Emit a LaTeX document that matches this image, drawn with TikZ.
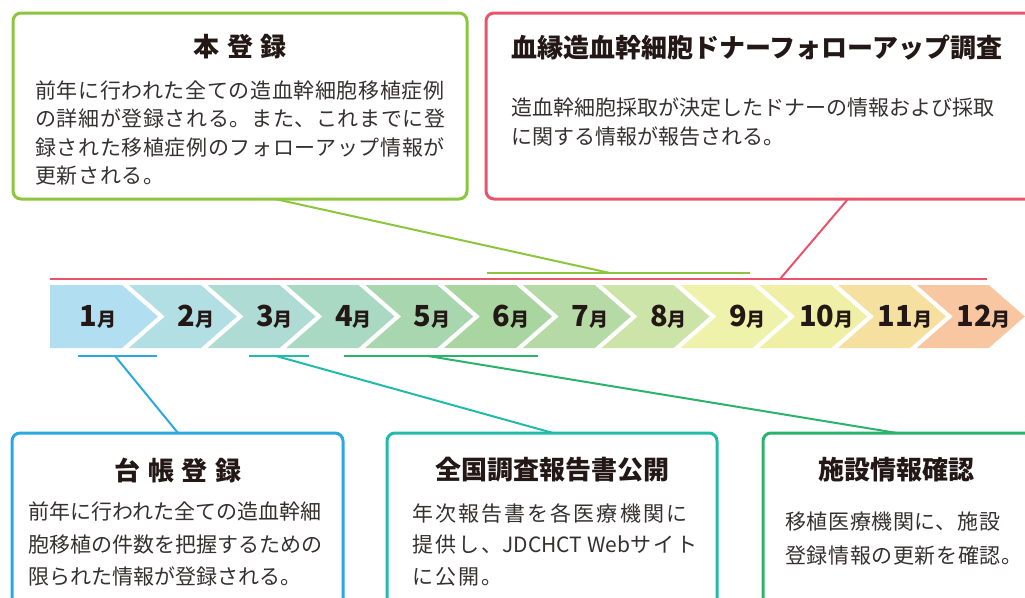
\documentclass[tikz,border=0pt]{standalone}
\usepackage{fontspec}
\newfontfamily\jp{Noto Sans CJK JP}
\definecolor{cYG}{HTML}{8CC63F}
\definecolor{cRed}{HTML}{E9546B}
\definecolor{cBlue}{HTML}{29A9E0}
\definecolor{cTeal}{HTML}{22BAA9}
\definecolor{cGreen}{HTML}{2BB36B}
\definecolor{txt}{HTML}{353130}
\definecolor{ttl}{HTML}{231815}
\definecolor{m1}{HTML}{B1DEF0}
\definecolor{m2}{HTML}{B2DFE3}
\definecolor{m3}{HTML}{AEDCD4}
\definecolor{m4}{HTML}{A9D8C3}
\definecolor{m5}{HTML}{A8D6AE}
\definecolor{m6}{HTML}{A8D5A0}
\definecolor{m7}{HTML}{B6DAA5}
\definecolor{m8}{HTML}{CDE4A9}
\definecolor{m9}{HTML}{EEF2AB}
\definecolor{m10}{HTML}{F0EFA6}
\definecolor{m11}{HTML}{F5E0A0}
\definecolor{m12}{HTML}{F9C6A2}
\begin{document}
\begin{tikzpicture}[x=1pt,y=-1pt,
  box/.style={rounded corners=8pt, line width=3pt, fill=white},
  bar/.style={line width=2.2pt},
  conn/.style={line width=2pt},
  ttlfont/.style={text=ttl, inner sep=0, font=\jp\bfseries\fontsize{26}{30}\selectfont},
  bodytext/.style={anchor=north west, inner sep=0, align=left, text=txt},
  month/.style={inner sep=0, text=ttl, font=\jp\bfseries}]
\useasboundingbox (0,0) rectangle (1025,597);
\clip (0,0) rectangle (1025,597);

% ---- month chevrons ----
\fill[m1] (50,285) -- (122,285) -- (158,316.5) -- (122,348) -- (50,348) -- cycle;
\foreach \i in {2,...,12}{
  \pgfmathsetmacro{\a}{50+(\i-1)*78.8}
  \fill[m\i] (\a,285) -- ({\a+72},285) -- ({\a+108},316.5) -- ({\a+72},348) -- (\a,348) -- ({\a+36},316.5) -- cycle;
}
\node[month] (mo1) at (98,317) {\fontsize{29}{29}\selectfont 1\fontsize{19}{19}\selectfont 月};
\foreach \i in {2,...,12}{
  \pgfmathsetmacro{\c}{50+(\i-1)*78.8+67}
  \node[month] (mo\i) at (\c,317) {\fontsize{29}{29}\selectfont\i\fontsize{19}{19}\selectfont 月};
}

% ---- boxes ----
\node[box, draw=cYG, minimum width=454pt, minimum height=186pt] (hon) at (240,106) {};
\node[box, draw=cRed, minimum width=574pt, minimum height=186pt] (donor) at (773,106) {};
\node[box, draw=cBlue, minimum width=331pt, minimum height=217pt] (daicho) at (177.5,541.5) {};
\node[box, draw=cTeal, minimum width=330pt, minimum height=217pt] (zenkoku) at (552,541.5) {};
\node[box, draw=cGreen, minimum width=337pt, minimum height=217pt] (shisetsu) at (931.5,541.5) {};

% ---- titles ----
\node[ttlfont] (honT) at (240,47) {本\hspace{0.3em}登\hspace{0.3em}録};
\node[ttlfont, anchor=west] (donorT) at (511,48) {血縁造血幹細胞ドナーフォローアップ調査};
\node[ttlfont] (daichoT) at (178,470) {台\hspace{0.3em}帳\hspace{0.3em}登\hspace{0.3em}録};
\node[ttlfont] (zenkokuT) at (552,470) {全国調査報告書公開};
\node[ttlfont] (shisetsuT) at (896,470) {施設情報確認};

% ---- body texts ----
\node[bodytext, font=\jp\fontsize{21}{28.5}\selectfont\addfontfeature{LetterSpace=3}] (honB) at (35,80.5)
  {前年に行われた全ての造血幹細胞移植症例\\の詳細が登録される。また、これまでに登\\録された移植症例のフォローアップ情報が\\更新される。};
\node[bodytext, font=\jp\fontsize{21}{29}\selectfont] (donorB) at (511,97.5)
  {造血幹細胞採取が決定したドナーの情報および採取\\に関する情報が報告される。};
\node[bodytext, font=\jp\fontsize{21}{32.5}\selectfont] (daichoB) at (28,502)
  {前年に行われた全ての造血幹細\\胞移植の件数を把握するための\\限られた情報が登録される。};
\node[bodytext, font=\jp\fontsize{21}{31.5}\selectfont\addfontfeature{LetterSpace=10}] (zenkokuB) at (412,503)
  {年次報告書を各医療機関に\\提供し、{\addfontfeature{LetterSpace=0}JDCHCT Web}サイト\\に公開。};
\node[bodytext, font=\jp\fontsize{21}{34}\selectfont\addfontfeature{LetterSpace=3}] (shisetsuB) at (785,511.5)
  {移植医療機関に、施設\\登録情報の更新を確認。};

% ---- bars ----
\coordinate (rL) at (50,279);   \coordinate (rR) at (987,279);   \coordinate (rC) at (780,279);
\coordinate (yL) at (487,273);  \coordinate (yR) at (750,273);   \coordinate (yC) at (610,273);
\coordinate (bL) at (78,356);   \coordinate (bR) at (157,356);   \coordinate (bC) at (115,356);
\coordinate (tL) at (249,356);  \coordinate (tR) at (309,356);   \coordinate (tC) at (276,356);
\coordinate (gL) at (344,356);  \coordinate (gR) at (538,356);   \coordinate (gC) at (428,356);
\draw[bar, cRed] (rL) -- (rR);
\draw[bar, cYG] (yL) -- (yR);
\draw[bar, cBlue] (bL) -- (bR);
\draw[bar, cTeal] (tL) -- (tR);
\draw[bar, cGreen] (gL) -- (gR);

% ---- connectors ----
\coordinate (honE) at (275,199);
\coordinate (donorE) at (848,199);
\coordinate (daichoE) at (178,433);
\coordinate (zenkokuE) at (553,433);
\coordinate (shisetsuE) at (897,433);
\draw[conn, cYG] (yC) -- (honE);
\draw[conn, cRed] (rC) -- (donorE);
\draw[conn, cBlue] (bC) -- (daichoE);
\draw[conn, cTeal] (tC) -- (zenkokuE);
\draw[conn, cGreen] (gC) -- (shisetsuE);
\end{tikzpicture}
\end{document}
